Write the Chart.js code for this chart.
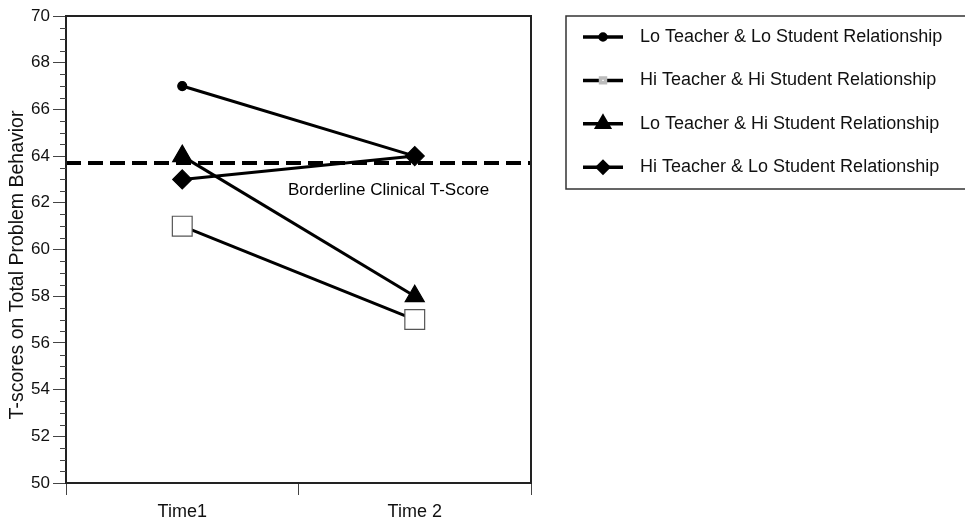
<!DOCTYPE html>
<html>
<head>
<meta charset="utf-8">
<script src="https://cdn.jsdelivr.net/npm/chart.js@4.4.0/dist/chart.umd.min.js"></script>
<style>
  html, body { margin: 0; padding: 0; background: #fff; overflow: hidden; }
  #wrap { width: 965px; height: 519px; position: relative; }
</style>
</head>
<body>
<div id="wrap"><canvas id="lineChart"></canvas></div>
<script>
const categories = ['Time1', 'Time 2'];
const seriesNames = [
    'Lo Teacher & Lo Student Relationship',
    'Hi Teacher & Hi Student Relationship',
    'Lo Teacher & Hi Student Relationship',
    'Hi Teacher & Lo Student Relationship'
];
const loTeacherLoStudent = [67, 64];
const hiTeacherHiStudent = [61, 57];
const loTeacherHiStudent = [64, 58];
const hiTeacherLoStudent = [63, 64];
const borderlineScore = 63.7;
const borderlineLabel = 'Borderline Clinical T-Score';
const yTitle = 'T-scores on Total Problem Behavior';
const yMin = 50, yMax = 70, yMajorStep = 2, yMinorStep = 0.5;

const FONT = '"Liberation Sans", Arial, sans-serif';

// legend marker sizes (smaller than the plotted ones)
const legendRadius = [3, 3.5, 7, 5.5];

const framePlugin = {
    id: 'frame',
    beforeDatasetsDraw(chart) {
        const { ctx, chartArea } = chart;
        const y = chart.scales.y.getPixelForValue(borderlineScore);
        ctx.save();
        // borderline clinical line
        ctx.strokeStyle = '#000';
        ctx.lineWidth = 4;
        ctx.setLineDash([15, 7]);
        ctx.beginPath();
        ctx.moveTo(chartArea.left, y);
        ctx.lineTo(chartArea.right, y);
        ctx.stroke();
        ctx.setLineDash([]);
        ctx.fillStyle = '#000';
        ctx.font = '17px ' + FONT;
        ctx.textAlign = 'left';
        ctx.textBaseline = 'middle';
        ctx.fillText(borderlineLabel, chartArea.left + 222, y + 27);
        ctx.restore();
    },
    afterDraw(chart) {
        const { ctx, chartArea } = chart;
        const yScale = chart.scales.y;
        ctx.save();
        // frame round the plot
        ctx.strokeStyle = '#222';
        ctx.lineWidth = 2;
        ctx.strokeRect(chartArea.left, chartArea.top, chartArea.right - chartArea.left, chartArea.bottom - chartArea.top);
        // minor ticks
        ctx.lineWidth = 1;
        ctx.strokeStyle = '#444';
        for (let v = yMin; v <= yMax; v += yMinorStep) {
            if (v % yMajorStep === 0) continue;
            const py = Math.round(yScale.getPixelForValue(v)) + 0.5;
            ctx.beginPath();
            ctx.moveTo(chartArea.left - 6, py);
            ctx.lineTo(chartArea.left, py);
            ctx.stroke();
        }

        // y axis title, centred a little below the plot middle like the original
        ctx.save();
        ctx.translate(18, 265);
        ctx.rotate(-Math.PI / 2);
        ctx.fillStyle = '#111';
        ctx.font = '19.5px ' + FONT;
        ctx.textAlign = 'center';
        ctx.textBaseline = 'middle';
        ctx.fillText(yTitle, 0, 0);
        ctx.restore();

        // legend
        const left = chartArea.right + 35;
        const top = chartArea.top;
        const rowH = 43.4;
        ctx.lineWidth = 1.5;
        ctx.strokeStyle = '#333';
        ctx.strokeRect(left, top, chart.width - left + 10, 173);
        chart.data.datasets.forEach((ds, i) => {
            const y = top + 21 + i * rowH;
            ctx.strokeStyle = '#000';
            ctx.lineWidth = 3.5;
            ctx.beginPath();
            ctx.moveTo(left + 17, y);
            ctx.lineTo(left + 57, y);
            ctx.stroke();
            ctx.fillStyle = ds.pointBackgroundColor;
            ctx.strokeStyle = i === 1 ? '#bbb' : ds.pointBorderColor;
            Chart.helpers.drawPoint(ctx, {
                pointStyle: ds.pointStyle,
                radius: legendRadius[i],
                borderWidth: 1,
                rotation: 0
            }, left + 37, y);
            ctx.fillStyle = '#111';
            ctx.font = '18px ' + FONT;
            ctx.textAlign = 'left';
            ctx.textBaseline = 'middle';
            ctx.fillText(ds.label, left + 74, y);
        });
        ctx.restore();
    }
};

const seriesData = [loTeacherLoStudent, hiTeacherHiStudent, loTeacherHiStudent, hiTeacherLoStudent];
const pointStyles = ['circle', 'rect', 'triangle', 'rectRot'];
const pointSizes = [4.5, 14, 11, 9.5];
const pointFills = ['#000', '#fff', '#000', '#000'];
const pointEdges = ['#000', '#555', '#000', '#000'];
const drawOrder = [2, 3, 1, 0];

const data1 = {
    labels: categories,
    datasets: seriesNames.map((name, i) => ({
        label: name,
        data: seriesData[i],
        borderColor: '#000',
        borderWidth: 3,
        pointStyle: pointStyles[i],
        pointRadius: pointSizes[i],
        pointBackgroundColor: pointFills[i],
        pointBorderColor: pointEdges[i],
        pointBorderWidth: 1.2,
        order: drawOrder[i],
        fill: false
    }))
};

const config1 = {
    type: 'line',
    data: data1,
    options: {
        responsive: true,
        maintainAspectRatio: false,
        animation: false,
        events: [],
        layout: {
            padding: { top: 16, right: 434, left: 0, bottom: 0 }
        },
        scales: {
            x: {
                type: 'category',
                offset: true,
                grid: {
                    offset: true,
                    drawOnChartArea: false,
                    tickLength: 12,
                    tickColor: '#444',
                    tickWidth: 1
                },
                border: { color: '#222', width: 2 },
                ticks: {
                    color: '#111',
                    font: { family: FONT, size: 18 },
                    padding: 6
                },
                afterFit(scale) { scale.height = 36; }
            },
            y: {
                min: yMin,
                max: yMax,
                grid: {
                    drawOnChartArea: false,
                    tickLength: 13,
                    tickColor: '#444',
                    tickWidth: 1
                },
                border: { color: '#222', width: 2 },
                ticks: {
                    stepSize: yMajorStep,
                    color: '#111',
                    font: { family: FONT, size: 17 },
                    padding: 3
                },
                afterFit(scale) { scale.width = 66; }
            }
        },
        plugins: {
            legend: { display: false },
            tooltip: { enabled: false }
        }
    },
    plugins: [framePlugin]
};

const ctx1 = document.getElementById('lineChart').getContext('2d');
const chart1 = new Chart(ctx1, config1);
</script>
</body>
</html>
